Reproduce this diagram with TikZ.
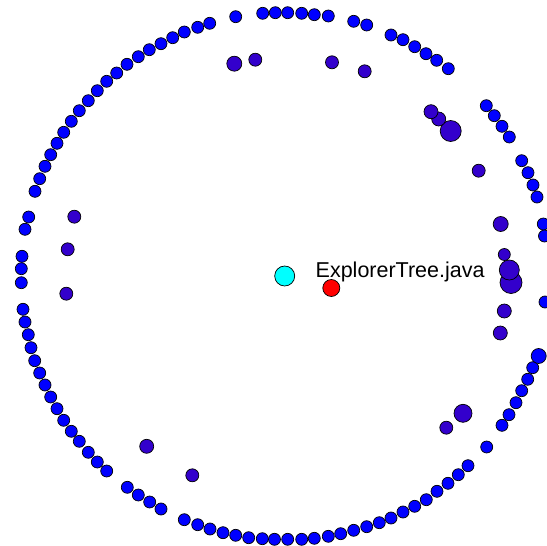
\documentclass[tikz,border=0pt]{standalone}
\usepackage{fontspec}
\setmainfont{Liberation Sans}
\definecolor{outerblue}{HTML}{0000FF}
\definecolor{innerpurple}{HTML}{3300CC}
\definecolor{focuscyan}{HTML}{00FFFF}
\definecolor{focusred}{HTML}{FF0000}
\tikzset{
  dotbase/.style={circle, draw=black, line width=0.7pt, inner sep=0pt},
  outerdot/.style={dotbase, fill=outerblue, minimum size=12pt},
  innerdot/.style={dotbase, fill=innerpurple},
  lbl/.style={inner sep=0pt, anchor=base west, font=\fontsize{21.5}{25}\selectfont}
}
\begin{document}
\begin{tikzpicture}[x=1pt,y=-1pt]
\useasboundingbox (0,0) rectangle (547,546);
\fill[white] (0,0) rectangle (547,546);
% outer ring
\foreach \px/\py [count=\i] in {
235.7/16.7,209.7/23.3,197.7/27.3,184.3/32,172.7/37.7,161/43.7,149.3/49.7,138.3/56.7,127/64.3,116.7/73,106.7/81.3,97.3/90.7,88.3/100.7,79.3/110.7,71.3/121.3,63.7/132.3,57/143.3,50.7/154.7,45/166.3,39.7/178.7,35/191.3,28.7/217,25/229.3,22/256.3,21.3/268.7,
262.7/13.3,275.3/12.7,287.7/12.7,301.7/13.3,314.3/14.7,328.3/16,353.7/21.3,366.7/25,391/35,403/39.7,414.7/46.7,426/53.7,436.7/60.3,448.3/68.7,486.3/105.7,494.3/115.7,502/126.3,509.3/137,521.7/160.7,528/172.7,533/185,537/197,543.3/224,544.5/236,545/302,
21.3/282.7,23/309.3,25/322,28.3/334.7,31/347.7,34.7/360.7,39.7/373,45/385,50.7/397,57/408.7,63.7/420.3,71.3/431.3,79.3/441.3,88.3/452.3,97.3/462,106.7/471,127.3/487.3,138.3/495,149.7/502,161/509,184.3/519.7,197.7/524.7,210/529,223/532.7,235.7/535.3,248.7/537.7,262.3/538.7,274.5/539.3,
287.7/539.3,301.7/539.3,314.3/538.3,328.3/536.3,340.7/533.7,353.7/530.3,366.7/526.7,379.3/522.7,391/518,403/512,414.7/506.3,426.3/499.7,437/491.3,448/483.3,458.3/474.7,468/465.7,486.7/447,502/425.3,509/414.7,516/402.7,521.7/390.7,527.7/379.3,532.7/367.7}
  \node[outerdot] (o\i) at (\px,\py) {};
\node[outerdot, minimum size=15pt] (obig) at (538.7,356) {};
% inner dots
\foreach \px/\py/\d [count=\i] in {
234.3/63.7/15, 255.3/59.7/13, 332/62.3/13, 364.7/71.3/13,
450.7/131/21, 438.7/119/14, 431/111.7/14, 478.7/170.7/13,
500.7/224/15, 504.3/254.5/12, 511/282.5/22, 509.3/270/20,
504.3/311/14, 500.3/333/14, 463/413.3/18, 446.3/427.7/13,
74.3/216.7/13, 67.7/249.3/13, 66.3/293.7/13, 146.7/446.3/14, 192.3/475.3/13}
  \node[innerdot, minimum size=\d pt] (n\i) at (\px,\py) {};
% focus nodes
\node[dotbase, fill=focuscyan, minimum size=20pt] (focus) at (284.7,276) {};
\node[dotbase, fill=focusred, minimum size=17pt] (target) at (331.3,288) {};
\node[lbl] (label) at (315.5,277) {ExplorerTree.java};
\end{tikzpicture}
\end{document}
